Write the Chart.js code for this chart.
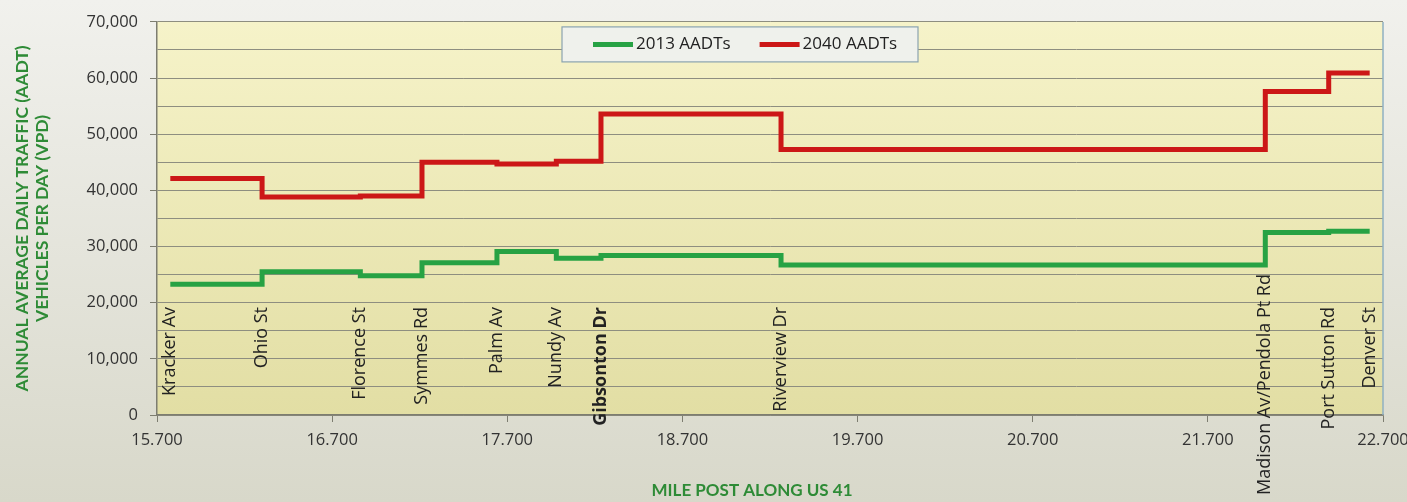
<!DOCTYPE html>
<html>
<head>
<meta charset="utf-8">
<script src="https://cdn.jsdelivr.net/npm/chart.js@4.4.1/dist/chart.umd.min.js"></script>
<style>
  body { margin: 0; background: #e6e6dd; }
  #wrap { width: 1407px; height: 502px; }
</style>
</head>
<body>
<div id="wrap"><canvas id="grafico" width="1407" height="502"></canvas></div>
<script>
// mile posts where the AADT changes (cross streets)
const stepMiles = [15.776, 16.300, 16.861, 17.213, 17.641, 17.980, 18.235, 19.263, 22.028, 22.390, 22.624];
const streetNames = ["Kracker Av", "Ohio St", "Florence St", "Symmes Rd", "Palm Av", "Nundy Av", "Gibsonton Dr",
  "Riverview Dr", "Madison Av/Pendola Pt Rd", "Port Sutton Rd", "Denver St"];
const aadt2013 = [23300, 25500, 24800, 27100, 29100, 27900, 28400, 26700, 32500, 32700, 32700];
const aadt2040 = [42100, 38800, 39000, 45000, 44700, 45200, 53600, 47300, 57600, 60900, 60900];
const mileTicks = [15.7, 16.7, 17.7, 18.7, 19.7, 20.7, 21.7, 22.7];
const xTitulo = 'MILE POST ALONG US 41';

const verde = '#27a244';
const rojo = '#cc1717';
const verdeTitulo = '#2e8b36';

function puntos(valores) {
  return stepMiles.map((m, i) => ({ x: m, y: valores[i] }));
}

// background of canvas + plot area, right border, street labels, x title
const fondo = {
  id: 'fondo',
  beforeDraw(chart) {
    const { ctx, chartArea: a, width, height } = chart;
    ctx.save();
    let g = ctx.createLinearGradient(0, 0, 0, height);
    g.addColorStop(0, '#f1f1ed');
    g.addColorStop(1, '#d8d8ca');
    ctx.fillStyle = g;
    ctx.fillRect(0, 0, width, height);
    g = ctx.createLinearGradient(0, a.top, 0, a.bottom);
    g.addColorStop(0, '#f6f3c9');
    g.addColorStop(1, '#e2dea4');
    ctx.fillStyle = g;
    ctx.fillRect(a.left, a.top, a.right - a.left, a.bottom - a.top);
    ctx.restore();
  },
  afterDraw(chart) {
    const { ctx, chartArea: a, height } = chart;
    const xs = chart.scales.x;
    ctx.save();
    ctx.strokeStyle = '#8fb0c2';
    ctx.lineWidth = 1.5;
    ctx.beginPath();
    ctx.moveTo(a.right, a.top);
    ctx.lineTo(a.right, a.bottom);
    ctx.stroke();

    // x axis title sits a bit left of the plot centre in the original
    ctx.fillStyle = verdeTitulo;
    ctx.font = 'bold 17px Lato';
    ctx.textAlign = 'center';
    ctx.textBaseline = 'middle';
    ctx.fillText(xTitulo, (a.left + a.right) / 2 - 18, height - 11);

    ctx.fillStyle = '#222';
    ctx.textAlign = 'right';
    streetNames.forEach((n, i) => {
      const x = xs.getPixelForValue(stepMiles[i]);
      ctx.font = (n === 'Gibsonton Dr' ? 'bold ' : '') + '18px "Open Sans"';
      const w = ctx.measureText(n).width;
      let top = a.bottom - 108;
      if (top + w > height - 7) top = height - 7 - w;   // long label: keep it on the page
      ctx.save();
      ctx.translate(x, top);
      ctx.rotate(-Math.PI / 2);
      ctx.fillText(n, 0, 0);
      ctx.restore();
    });
    ctx.restore();
  }
};

// boxed legend inside the plot, as in the original
const leyenda = {
  id: 'leyenda',
  afterDatasetsDraw(chart) {
    const { ctx, chartArea: a } = chart;
    const left = a.left + 405, top = a.top + 5, w = 356, h = 35;
    ctx.save();
    ctx.fillStyle = '#eff1ec';
    ctx.strokeStyle = '#8aa3b0';
    ctx.lineWidth = 1.2;
    ctx.fillRect(left, top, w, h);
    ctx.strokeRect(left, top, w, h);
    ctx.font = '17px "Open Sans"';
    ctx.textBaseline = 'middle';
    ctx.textAlign = 'left';
    let x = left + 31;
    const cy = top + h / 2;
    chart.data.datasets.forEach(ds => {
      ctx.strokeStyle = ds.borderColor;
      ctx.lineWidth = 5;
      ctx.beginPath();
      ctx.moveTo(x, cy);
      ctx.lineTo(x + 40, cy);
      ctx.stroke();
      ctx.fillStyle = '#222';
      ctx.fillText(ds.label, x + 43, cy);
      x += 43 + ctx.measureText(ds.label).width + 29;
    });
    ctx.restore();
  }
};

new Chart(document.getElementById('grafico'), {
  type: 'line',
  data: {
    datasets: [
      { label: '2013 AADTs', data: puntos(aadt2013), borderColor: verde, backgroundColor: verde,
        borderWidth: 5, stepped: true, pointRadius: 0, fill: false, borderJoinStyle: 'miter' },
      { label: '2040 AADTs', data: puntos(aadt2040), borderColor: rojo, backgroundColor: rojo,
        borderWidth: 5, stepped: true, pointRadius: 0, fill: false, borderJoinStyle: 'miter' }
    ]
  },
  options: {
    responsive: false,
    animation: false,
    layout: { padding: { top: 20, right: 24, left: 0, bottom: 0 } },
    plugins: {
      tooltip: { enabled: false },
      legend: { display: false }
    },
    scales: {
      x: {
        type: 'linear',
        min: 15.7, max: 22.7,
        afterBuildTicks: s => { s.ticks = mileTicks.map(v => ({ value: v })); },
        afterFit: s => { s.height = 87; s.paddingLeft = 0; s.paddingRight = 0; },
        border: { color: '#7d7d70', width: 1.5 },
        grid: { drawOnChartArea: false, tickLength: 7, color: '#7d7d70' },
        ticks: { padding: 8, color: '#333', font: { family: 'Open Sans', size: 16.5 },
                 maxRotation: 0, callback: v => v.toFixed(3) }
      },
      y: {
        min: 0, max: 70000,
        afterFit: s => { s.width = 157; },
        border: { color: '#7d7d70', width: 1.5 },
        grid: {
          color: '#8e8e80', lineWidth: 1, tickLength: 7,
          tickColor: c => (c.tick && c.tick.value % 10000 === 0) ? '#7d7d70' : 'transparent'
        },
        ticks: { stepSize: 5000, padding: 12, color: '#333', font: { family: 'Open Sans', size: 16.5 },
                 callback: v => v % 10000 === 0 ? v.toLocaleString('en-US') : '' },
        title: { display: true, text: ['ANNUAL AVERAGE DAILY TRAFFIC (AADT)', 'VEHICLES PER DAY (VPD)'],
                 color: verdeTitulo, font: { family: 'Lato', size: 17.5, weight: 'bold', lineHeight: '20px' },
                 padding: { top: 12, bottom: 0 } }
      }
    }
  },
  plugins: [fondo, leyenda]
});
</script>
</body>
</html>
